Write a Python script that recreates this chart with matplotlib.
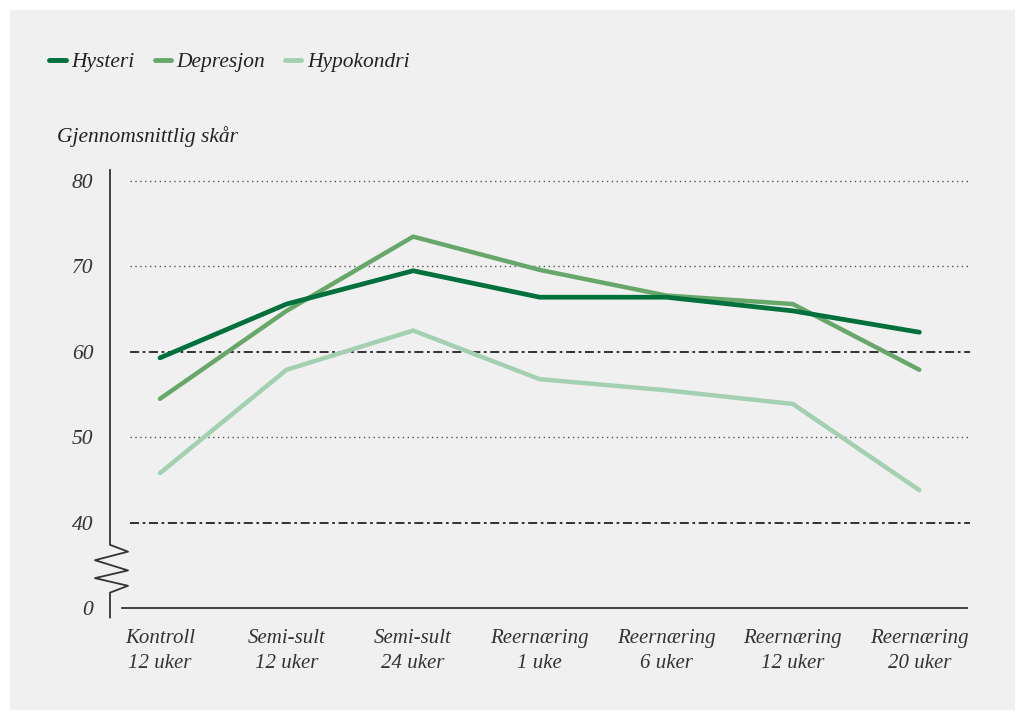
import numpy as np
import matplotlib.pyplot as plt
import matplotlib.transforms as mtransforms
from matplotlib.lines import Line2D

# data (0-axis is broken: "0" is drawn at y=30)
labels = ['Kontroll\n12 uker', 'Semi-sult\n12 uker', 'Semi-sult\n24 uker',
          'Reernæring\n1 uke', 'Reernæring\n6 uker', 'Reernæring\n12 uker',
          'Reernæring\n20 uker']
hysteri = [59.3, 65.6, 69.5, 66.4, 66.4, 64.8, 62.3]
depresjon = [54.5, 64.8, 73.5, 69.6, 66.6, 65.6, 57.9]
hypokondri = [45.8, 57.9, 62.5, 56.8, 55.5, 53.9, 43.8]
yticks = [30, 40, 50, 60, 70, 80]
yticklabels = ['0', '40', '50', '60', '70', '80']

c_dark = '#00703c'
c_mid = '#67a86a'
c_light = '#a2d0b0'
bg = '#f0f0f0'

plt.rcParams['font.family'] = ['Liberation Serif', 'DejaVu Serif']
plt.rcParams['font.style'] = 'italic'

fig = plt.figure(figsize=(10.25, 7.2), dpi=100)
fig.patch.set_facecolor('white')
fig.add_artist(plt.Rectangle((10 / 1025, 10 / 720), 1005 / 1025, 700 / 720,
                             transform=fig.transFigure, facecolor=bg,
                             edgecolor='none', zorder=-10))

ax = fig.add_axes([110 / 1025, 112 / 720, 860 / 1025, 438 / 720])
ax.set_facecolor('none')
x = np.arange(len(labels))
ax.set_xlim(-0.395, 6.40)
ax.set_ylim(30, 81.3)

for s in ax.spines.values():
    s.set_visible(False)

# grid lines
for y in [50, 70, 80]:
    ax.plot([-0.237, 6.4], [y, y], color='#555555', lw=1.0, ls=(0, (1, 2.5)), zorder=1)
for y in [40, 60]:
    ax.plot([-0.237, 6.4], [y, y], color='#222222', lw=1.3, ls=(0, (5, 2, 1.5, 2)), zorder=1)

ax.plot(x, hypokondri, color=c_light, lw=3.2, solid_capstyle='round', zorder=3)
ax.plot(x, depresjon, color=c_mid, lw=3.2, solid_capstyle='round', zorder=3)
ax.plot(x, hysteri, color=c_dark, lw=3.4, solid_capstyle='round', zorder=4)

# y axis with break
tr = mtransforms.blended_transform_factory(ax.transAxes, ax.transData)
def xo(px):
    return (px - 110) / 860.0
zx = [xo(110), xo(110), xo(128), xo(95), xo(128), xo(95), xo(128), xo(110), xo(110), xo(110)]
zy = [81.3, 37.4, 36.6, 35.6, 34.4, 33.5, 32.6, 31.8, 31.8, 28.9]
ax.plot(zx, zy, color='#333333', lw=1.3, transform=tr, clip_on=False)

# x axis line
ax.plot([-0.3, 6.38], [30, 30], color='#333333', lw=1.3, clip_on=False)

ax.set_yticks(yticks)
ax.set_yticklabels(yticklabels)
ax.set_xticks(x)
ax.set_xticklabels(labels, linespacing=1.45)
ax.tick_params(axis='both', length=0, colors='#333333')
ax.tick_params(axis='y', pad=12, labelsize=15.5)
ax.tick_params(axis='x', pad=15, labelsize=15)

fig.text(57 / 1025, 1 - 137 / 720, 'Gjennomsnittlig skår', fontsize=15.5,
         color='#222222', va='center', ha='left')

handles = [Line2D([0], [0], color=c, lw=3.5, solid_capstyle='round')
           for c in [c_dark, c_mid, c_light]]
fig.legend(handles, ['Hysteri', 'Depresjon', 'Hypokondri'],
           loc='center left', bbox_to_anchor=(30 / 1025, 1 - 62 / 720),
           ncol=3, frameon=False, fontsize=15.5, handlelength=0.75,
           handletextpad=0.25, columnspacing=0.95, labelcolor='#222222')

fig.savefig('out.png', dpi=100, facecolor=fig.get_facecolor())
